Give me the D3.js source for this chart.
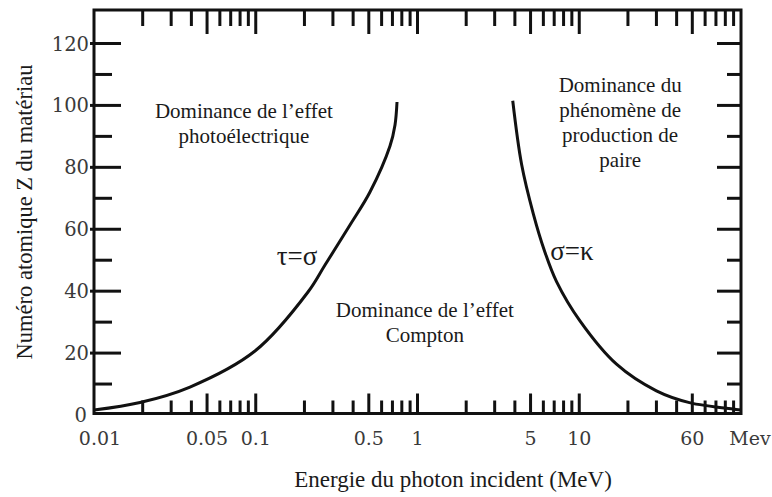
<!DOCTYPE html>
<html><head><meta charset="utf-8">
<script src="https://cdn.jsdelivr.net/npm/d3@7"></script>
<style>body{margin:0;background:#fff;overflow:hidden}</style></head>
<body>
<svg id="chart" width="772" height="497"></svg>
<script>
// ---- data ----
const energyTauSigma = [0.01, 0.01925, 0.0392, 0.0989, 0.2104, 0.268, 0.3825, 0.5084, 0.676, 0.726, 0.747];
const zTauSigma      = [1.6, 4.04, 9.04, 20.67, 39.73, 48.45, 61.37, 72.03, 86.89, 93.7, 101.1];
const energySigmaKappa = [3.88, 4.4, 5.2, 6.1, 7.25, 10.1, 17, 30, 48, 93, 100];
const zSigmaKappa      = [101.5, 81, 65, 53, 43, 30.4, 16.4, 7.8, 4, 1.8, 1.6];

const xMajorTicks = [0.05, 0.1, 0.5, 1, 5, 10, 50];
const xMinorTicks = [0.02,0.03,0.04,0.06,0.07,0.08,0.09,0.2,0.3,0.4,0.6,0.7,0.8,0.9,
                     2,3,4,6,7,8,9,20,30,40,60,70,80,90];
const xLabelValues = [0.01, 0.05, 0.1, 0.5, 1, 5, 10, 50];
const xLabelTexts  = ["0.01","0.05","0.1","0.5","1","5","10","60"];
const yMajorTicks = [0, 20, 40, 60, 80, 100, 120];
const yMinorTicks = [10, 30, 50, 70, 90, 110];

const curveLabels = [
  {text: "τ=σ", e: 0.18, z: 48.5},
  {text: "σ=κ", e: 9.0, z: 50}
];
const regionLabels = [
  {lines: ["Dominance de l’effet", "photoélectrique"], e: 0.0845, z: 95.9},
  {lines: ["Dominance du", "phénomène de", "production de", "paire"], e: 17.9, z: 104.3},
  {lines: ["Dominance de l’effet", "Compton"], e: 1.11, z: 31.75}
];

// ---- layout ----
const svg = d3.select("#chart");
const L = 94, R = 741, T = 10, B = 413.5;
const x = d3.scaleLog().domain([0.01, 100]).range([L, R]);
const y = d3.scaleLinear().domain([0, 120]).range([415, 43.5]);
const ink = "#111";
const serif = "Liberation Serif";
const tickFont = "DejaVu Serif";

// curves
const line = d3.line().x(d => x(d[0])).y(d => y(d[1])).curve(d3.curveCatmullRom.alpha(0.5));
svg.append("path").datum(energyTauSigma.map((e,i)=>[e, zTauSigma[i]]))
  .attr("d", line).attr("fill","none").attr("stroke", ink).attr("stroke-width", 3);
svg.append("path").datum(energySigmaKappa.map((e,i)=>[e, zSigmaKappa[i]]))
  .attr("d", line).attr("fill","none").attr("stroke", ink).attr("stroke-width", 3);

// ticks
const tk = svg.append("g").attr("stroke", ink).attr("stroke-width", 3);
tk.selectAll(".bmaj").data(xMajorTicks).join("line").attr("class","bmaj")
  .attr("x1", d=>x(d)).attr("x2", d=>x(d)).attr("y1", B).attr("y2", B-20);
tk.selectAll(".bmin").data(xMinorTicks).join("line").attr("class","bmin")
  .attr("x1", d=>x(d)).attr("x2", d=>x(d)).attr("y1", B).attr("y2", B-13);
tk.selectAll(".tmaj").data(xMajorTicks).join("line").attr("class","tmaj")
  .attr("x1", d=>x(d)).attr("x2", d=>x(d)).attr("y1", T).attr("y2", T+24);
tk.selectAll(".tmin").data(xMinorTicks).join("line").attr("class","tmin")
  .attr("x1", d=>x(d)).attr("x2", d=>x(d)).attr("y1", T).attr("y2", T+16);
tk.selectAll(".lmaj").data(yMajorTicks.filter(d=>d>0)).join("line").attr("class","lmaj")
  .attr("x1", L-4).attr("x2", L+27).attr("y1", d=>y(d)).attr("y2", d=>y(d));
tk.selectAll(".lmin").data(yMinorTicks).join("line").attr("class","lmin")
  .attr("x1", L).attr("x2", L+18).attr("y1", d=>y(d)).attr("y2", d=>y(d));
tk.selectAll(".rmaj").data(yMajorTicks.filter(d=>d>0)).join("line").attr("class","rmaj")
  .attr("x1", R).attr("x2", R-24).attr("y1", d=>y(d)).attr("y2", d=>y(d));
tk.selectAll(".rmin").data(yMinorTicks).join("line").attr("class","rmin")
  .attr("x1", R).attr("x2", R-14).attr("y1", d=>y(d)).attr("y2", d=>y(d));

// frame
svg.append("rect").attr("x", L).attr("y", T).attr("width", R-L).attr("height", B-T)
  .attr("fill","none").attr("stroke", ink).attr("stroke-width", 3);

// tick labels
svg.append("g").selectAll("text").data(yMajorTicks).join("text")
  .attr("x", d => d===0 ? 87 : 89).attr("y", d=>y(d)).attr("dy","0.36em")
  .attr("text-anchor","end").style("font-family", tickFont).style("font-size","19.5px")
  .attr("fill","#3a3a3a").text(d=>d);
svg.append("g").selectAll("text").data(xLabelValues).join("text")
  .attr("x", (d,i)=> i===0 ? x(d)+6 : x(d)).attr("y", 445)
  .attr("text-anchor","middle").style("font-family", tickFont).style("font-size","19px")
  .attr("fill","#3a3a3a").text((d,i)=>xLabelTexts[i]);
svg.append("text").attr("x", 750).attr("y", 445).attr("text-anchor","middle")
  .style("font-family", tickFont).style("font-size","19px").attr("fill","#3a3a3a").text("Mev");

// axis titles
svg.append("text").attr("transform","translate(32,212) rotate(-90)")
  .attr("text-anchor","middle").style("font-family", serif).style("font-size","22.5px")
  .attr("fill","#1a1a1a").text("Numéro atomique Z du matériau");
svg.append("text").attr("x", 453).attr("y", 487).attr("text-anchor","middle")
  .style("font-family", serif).style("font-size","23px").attr("fill","#1a1a1a")
  .text("Energie du photon incident (MeV)");

// curve labels
svg.append("g").selectAll("text").data(curveLabels).join("text")
  .attr("x", d=>x(d.e)).attr("y", d=>y(d.z)).attr("text-anchor","middle")
  .style("font-family", serif).style("font-size","27px").attr("fill","#1a1a1a").text(d=>d.text);

// region labels
regionLabels.forEach(r => {
  const t = svg.append("text").attr("text-anchor","middle")
    .style("font-family", serif).style("font-size","21px").attr("fill","#1a1a1a");
  r.lines.forEach((s,i) => t.append("tspan").attr("x", x(r.e)).attr("y", y(r.z) + i*25).text(s));
});
</script>
</body></html>
